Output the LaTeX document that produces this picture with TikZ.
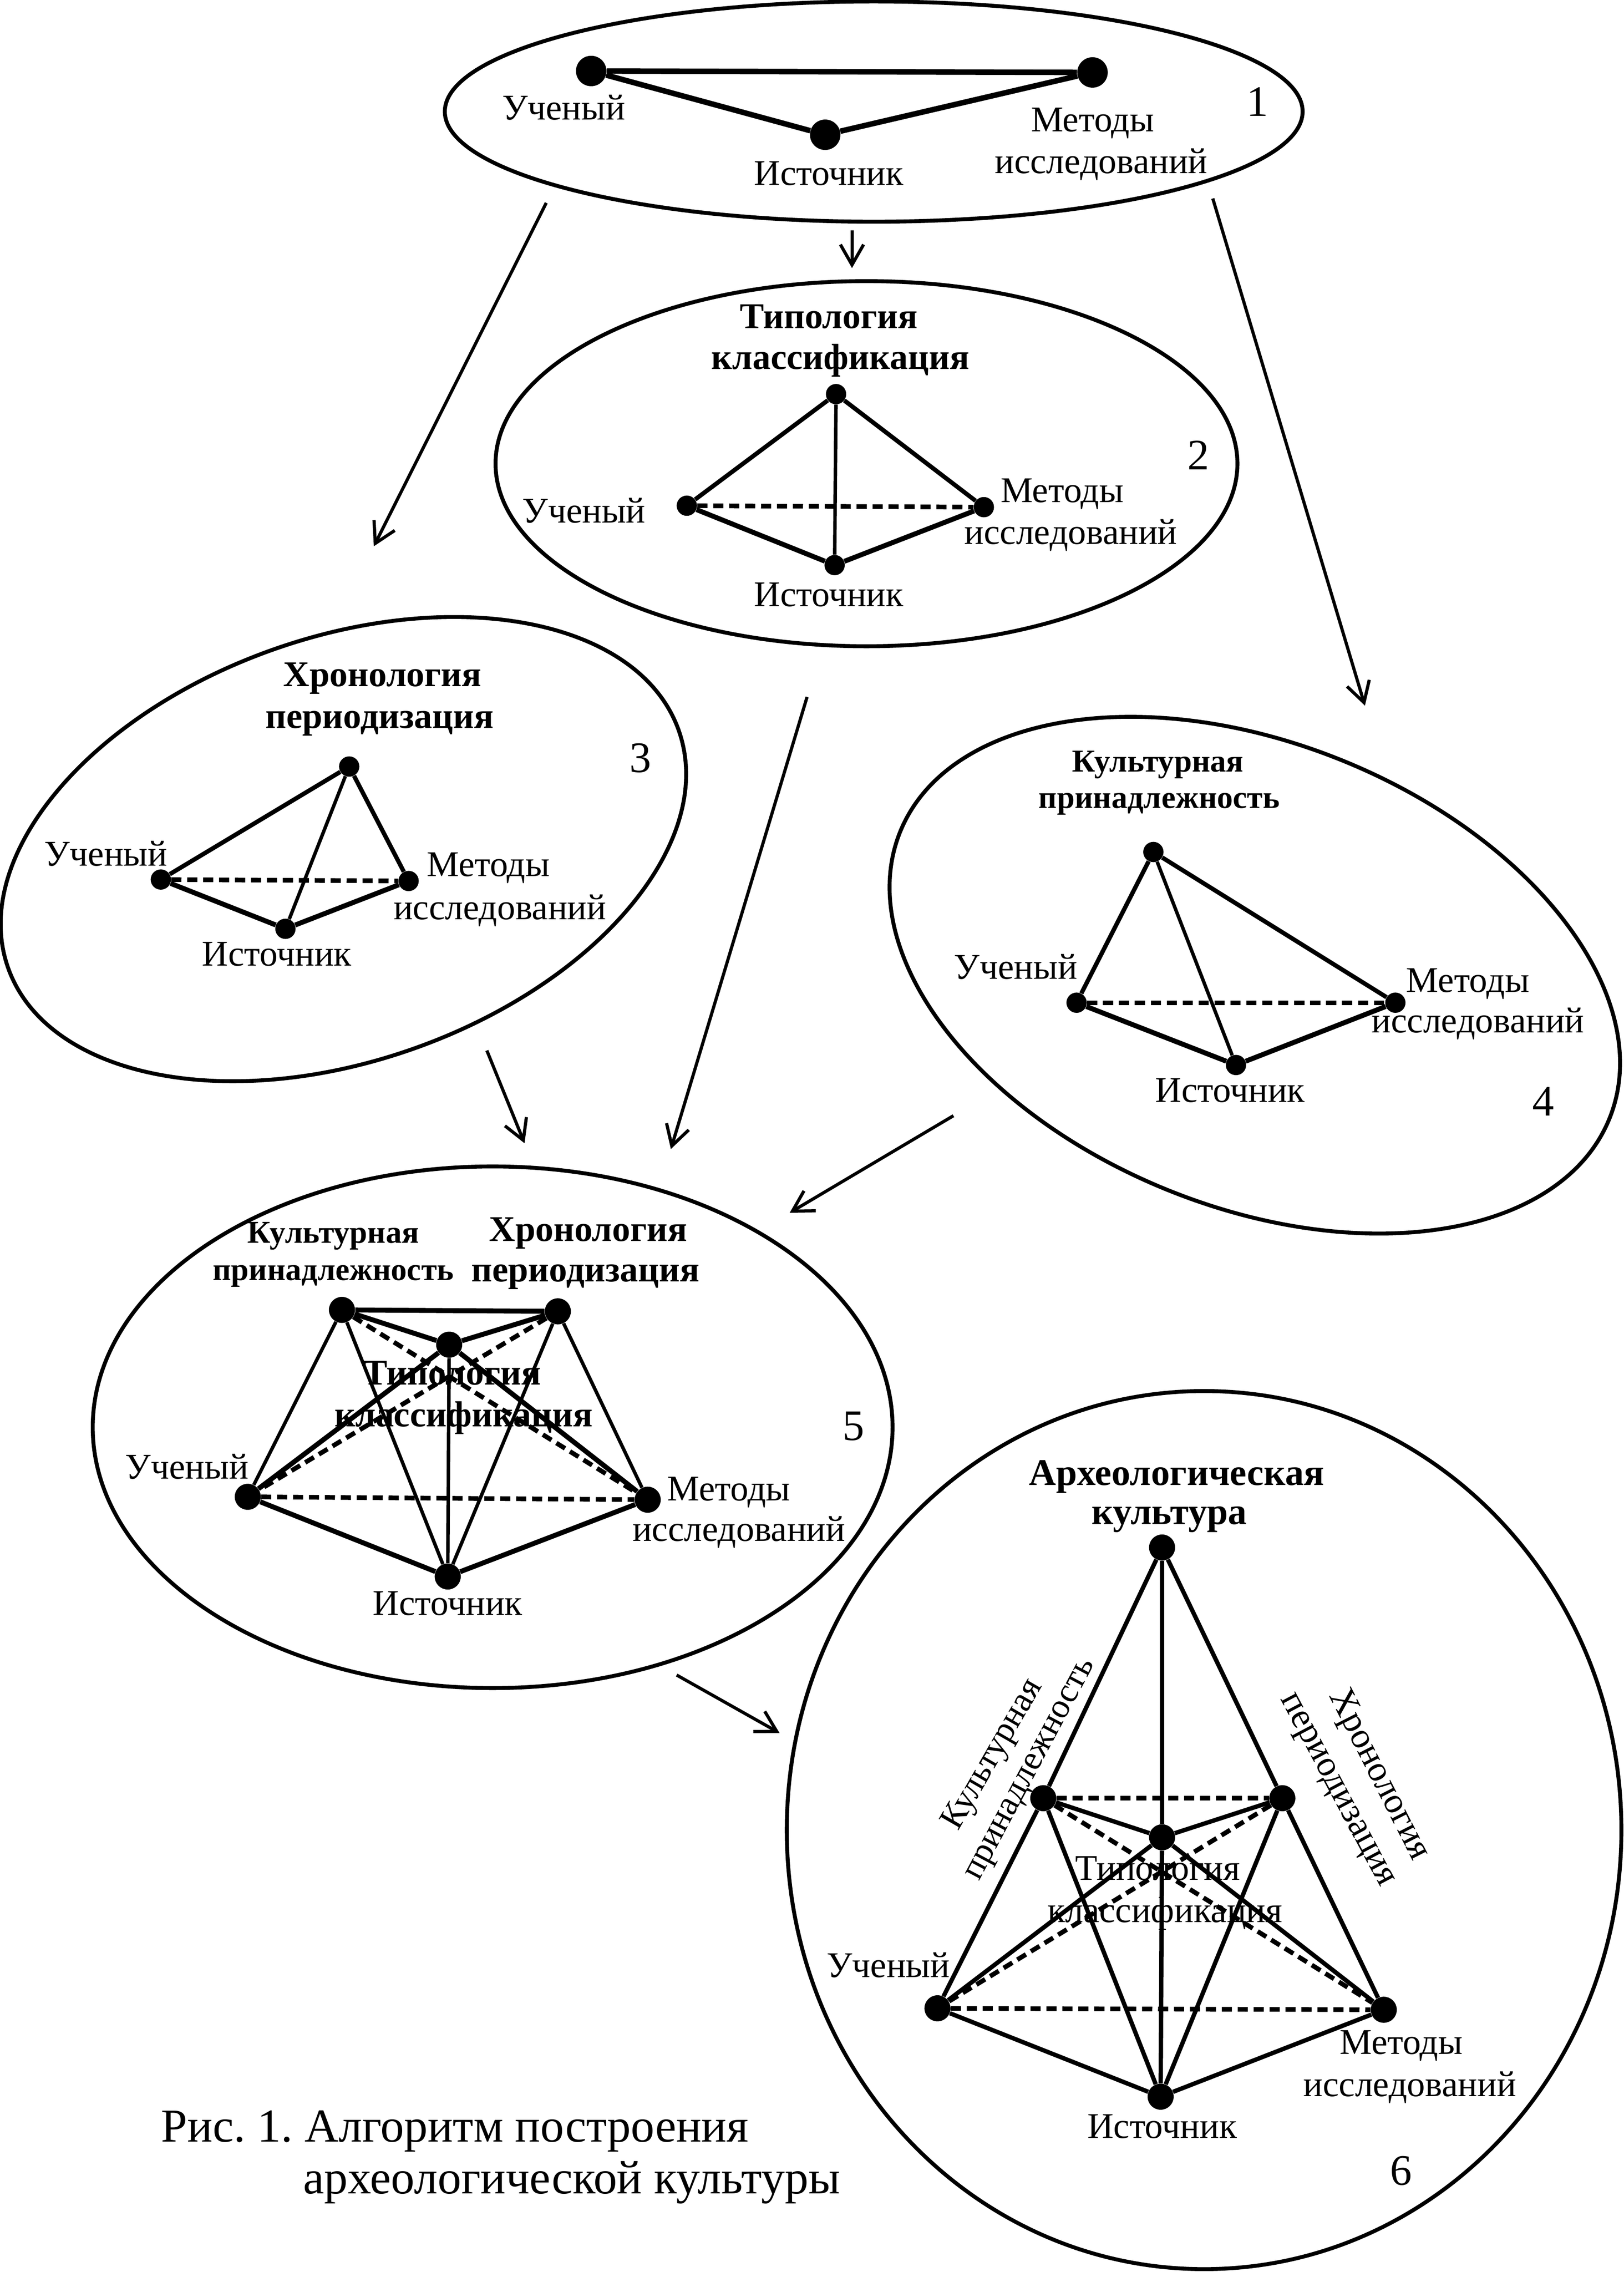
\documentclass[tikz,border=0pt]{standalone}
\usepackage{fontspec}
\setmainfont{Liberation Serif}
\usetikzlibrary{arrows.meta}
\frenchspacing
\begin{document}
\begin{tikzpicture}[x=1pt,y=-1pt,
  bord/.style={line width=2.7pt},
  heavy/.style={line width=3.4pt},
  mid/.style={line width=3pt},
  thin/.style={line width=2.4pt},
  dsh/.style={line width=3.2pt, dash pattern=on 7pt off 4pt},
  arr/.style={line width=2.2pt, -{Straight Barb[length=14pt,width=16pt]}},
  dotL/.style={circle, fill=black, inner sep=0pt, minimum size=21pt},
  dotS/.style={circle, fill=black, inner sep=0pt, minimum size=14pt},
  dotM/.style={circle, fill=black, inner sep=0pt, minimum size=18pt},
  lab/.style={inner sep=0pt, font=\fontsize{25}{30}\selectfont, text height=16.5pt, text depth=1.2pt},
  rlab/.style={inner sep=0pt, font=\fontsize{24}{28}\selectfont, text height=15.8pt, text depth=1.2pt},
  hd/.style={inner sep=0pt, font=\fontsize{25}{30}\selectfont\bfseries, text height=16.5pt, text depth=1.2pt},
  hdl/.style={inner sep=0pt, font=\fontsize{26}{30}\selectfont\bfseries, text height=17.2pt, text depth=1.3pt},
  hds/.style={inner sep=0pt, font=\fontsize{22}{26}\selectfont\bfseries, text height=14.5pt, text depth=1.1pt},
  num/.style={inner sep=0pt, font=\fontsize{30}{34}\selectfont, text height=20pt, text depth=0pt},
  capt/.style={inner sep=0pt, anchor=base west, font=\fontsize{32.6}{38}\selectfont},
]
\fill[white] (0,0) rectangle (1120.6,1568);
\useasboundingbox (0,0) rectangle (1120.6,1568);

% ---------- ellipses ----------
\draw[bord] (603,77) ellipse (296 and 76);
\draw[bord] (598,320) ellipse (256 and 126);
\draw[bord, rotate around={19.5:(237,586)}] (237,586) ellipse (245.5 and 146);
\draw[bord, rotate around={-22:(866,673)}] (866,673) ellipse (264 and 160);
\draw[bord] (340,985) ellipse (276 and 180);
\draw[bord] (831,1263) ellipse (288 and 303);

% ---------- ellipse 1 ----------
\node[dotL] (u1) at (408,49) {};
\node[dotL] (m1) at (754,50) {};
\node[dotL] (s1) at (569.5,93) {};
\draw[line width=3.8pt] (u1) -- (m1) (u1) -- (s1) (s1) -- (m1);
\node[lab] (u1l) at (389,75) {Ученый};
\node[lab] (s1l) at (572,120) {Источник};
\node[lab] (m1l) at (754,83) {Методы};
\node[lab] (m1l2) at (760,112) {исследований};
\node[num] (n1) at (868,70) {1};

% ---------- ellipse 2 ----------
\node[dotS] (t2) at (577,272) {};
\node[dotS] (u2) at (474,349) {};
\node[dotS] (m2) at (679,350) {};
\node[dotS] (s2) at (576,390) {};
\draw[mid] (t2) -- (u2) (t2) -- (m2);
\draw[thin] (t2) -- (s2);
\draw[heavy] (u2) -- (s2) (s2) -- (m2);
\draw[dsh] (u2) -- (m2);
\node[hd] (t2l) at (572,219) {Типология};
\node[hd] (t2l2) at (580,247) {классификация};
\node[lab] (u2l) at (403,353) {Ученый};
\node[lab] (m2l) at (733,339) {Методы};
\node[lab] (m2l2) at (739,368) {исследований};
\node[lab] (s2l) at (572,411) {Источник};
\node[num] (n2) at (827,314) {2};

% ---------- ellipse 3 ----------
\node[dotS] (h3) at (241,529) {};
\node[dotS] (u3) at (111,607) {};
\node[dotS] (m3) at (282,608) {};
\node[dotS] (s3) at (197,641) {};
\draw[mid] (h3) -- (u3) (h3) -- (m3);
\draw[thin] (h3) -- (s3);
\draw[heavy] (u3) -- (s3) (s3) -- (m3);
\draw[dsh] (u3) -- (m3);
\node[hd] (h3l) at (264,466) {Хронология};
\node[hd] (h3l2) at (262,495) {периодизация};
\node[lab] (u3l) at (73,590) {Ученый};
\node[lab] (m3l) at (337,597) {Методы};
\node[lab] (m3l2) at (345,627) {исследований};
\node[lab] (s3l) at (191,659) {Источник};
\node[num] (n3) at (442,523) {3};

% ---------- ellipse 4 ----------
\node[dotS] (k4) at (796,588) {};
\node[dotS] (u4) at (743,692) {};
\node[dotS] (m4) at (963,692) {};
\node[dotS] (s4) at (853,735) {};
\draw[mid] (k4) -- (u4) (k4) -- (m4);
\draw[thin] (k4) -- (s4);
\draw[heavy] (u4) -- (s4) (s4) -- (m4);
\draw[dsh] (u4) -- (m4);
\node[hds] (k4l) at (799,526) {Культурная};
\node[hds] (k4l2) at (800,551) {принадлежность};
\node[lab] (u4l) at (701,668) {Ученый};
\node[lab] (m4l) at (1013,677) {Методы};
\node[lab] (m4l2) at (1020,705) {исследований};
\node[lab] (s4l) at (849,753) {Источник};
\node[num] (n4) at (1065,760) {4};

% ---------- ellipse 5 ----------
\node[dotM] (k5) at (236,904) {};
\node[dotM] (h5) at (385,905) {};
\node[dotM] (t5) at (310,928) {};
\node[dotM] (u5) at (171,1033) {};
\node[dotM] (m5) at (447,1035) {};
\node[dotM] (s5) at (309,1088) {};
\draw[heavy] (k5) -- (h5) (k5) -- (t5) (h5) -- (t5) (t5) -- (u5) (t5) -- (m5) (u5) -- (s5) (s5) -- (m5);
\draw[thin] (k5) -- (u5) (k5) -- (s5) (h5) -- (s5) (h5) -- (m5) (t5) -- (s5);
\draw[dsh] (u5) -- (m5) (k5) -- (m5) (h5) -- (u5);
\node[hds] (k5l) at (230,851) {Культурная};
\node[hds] (k5l2) at (230,877) {принадлежность};
\node[hd] (h5l) at (406,849) {Хронология};
\node[hd] (h5l2) at (404,877) {периодизация};
\node[hd] (t5l) at (312,948) {Типология};
\node[hd] (t5l2) at (320,977) {классификация};
\node[lab] (u5l) at (129,1013) {Ученый};
\node[lab] (m5l) at (503,1028) {Методы};
\node[lab] (m5l2) at (510,1056) {исследований};
\node[lab] (s5l) at (309,1107) {Источник};
\node[num] (n5) at (589,984) {5};

% ---------- ellipse 6 ----------
\node[dotM] (a6) at (802,1068) {};
\node[dotM] (k6) at (720,1241) {};
\node[dotM] (h6) at (885,1241) {};
\node[dotM] (t6) at (802,1268) {};
\node[dotM] (u6) at (647,1386) {};
\node[dotM] (m6) at (955,1387) {};
\node[dotM] (s6) at (801,1447) {};
\draw[mid] (a6) -- (k6) (k6) -- (u6) (a6) -- (h6) (h6) -- (m6) (a6) -- (t6) (t6) -- (s6);
\draw[mid] (k6) -- (t6) (h6) -- (t6) (t6) -- (u6) (t6) -- (m6) (k6) -- (s6) (h6) -- (s6) (u6) -- (s6) (s6) -- (m6);
\draw[dsh] (k6) -- (h6) (u6) -- (m6) (k6) -- (m6) (h6) -- (u6);
\node[hdl] (a6l) at (812,1017) {Археологическая};
\node[hdl] (a6l2) at (807,1044) {культура};
\node[rlab, rotate=60] (k6l) at (684,1210) {Культурная};
\node[rlab, rotate=62] (k6l2) at (709,1220) {принадлежность};
\node[lab, rotate=-63] (h6l) at (953,1224) {Хронология};
\node[lab, rotate=-62] (h6l2) at (925,1234) {периодизация};
\node[lab] (t6l) at (799,1290) {Типология};
\node[lab] (t6l2) at (804,1319) {классификация};
\node[lab] (u6l) at (613,1357) {Ученый};
\node[lab] (m6l) at (967,1410) {Методы};
\node[lab] (m6l2) at (973,1439) {исследований};
\node[lab] (s6l) at (802,1468) {Источник};
\node[num] (n6) at (967,1498) {6};

% ---------- arrows ----------
\coordinate (a1s) at (377,140);  \coordinate (a1e) at (258,377);
\coordinate (a2s) at (588,159);  \coordinate (a2e) at (588,185);
\coordinate (a3s) at (837,137);  \coordinate (a3e) at (942,487);
\coordinate (a4s) at (557,481);  \coordinate (a4e) at (463,793);
\coordinate (a5s) at (336,725);  \coordinate (a5e) at (362,789);
\coordinate (a6s) at (658,770);  \coordinate (a6e) at (545,837);
\coordinate (a7s) at (467,1156); \coordinate (a7e) at (538,1196);
\draw[arr] (a1s) -- (a1e);
\draw[arr] (a2s) -- (a2e);
\draw[arr] (a3s) -- (a3e);
\draw[arr] (a4s) -- (a4e);
\draw[arr] (a5s) -- (a5e);
\draw[arr] (a6s) -- (a6e);
\draw[arr] (a7s) -- (a7e);

% ---------- caption ----------
\node[capt] (cap1) at (111,1478) {Рис. 1. Алгоритм построения};
\node[capt] (cap2) at (209,1514) {археологической культуры};
\end{tikzpicture}
\end{document}
